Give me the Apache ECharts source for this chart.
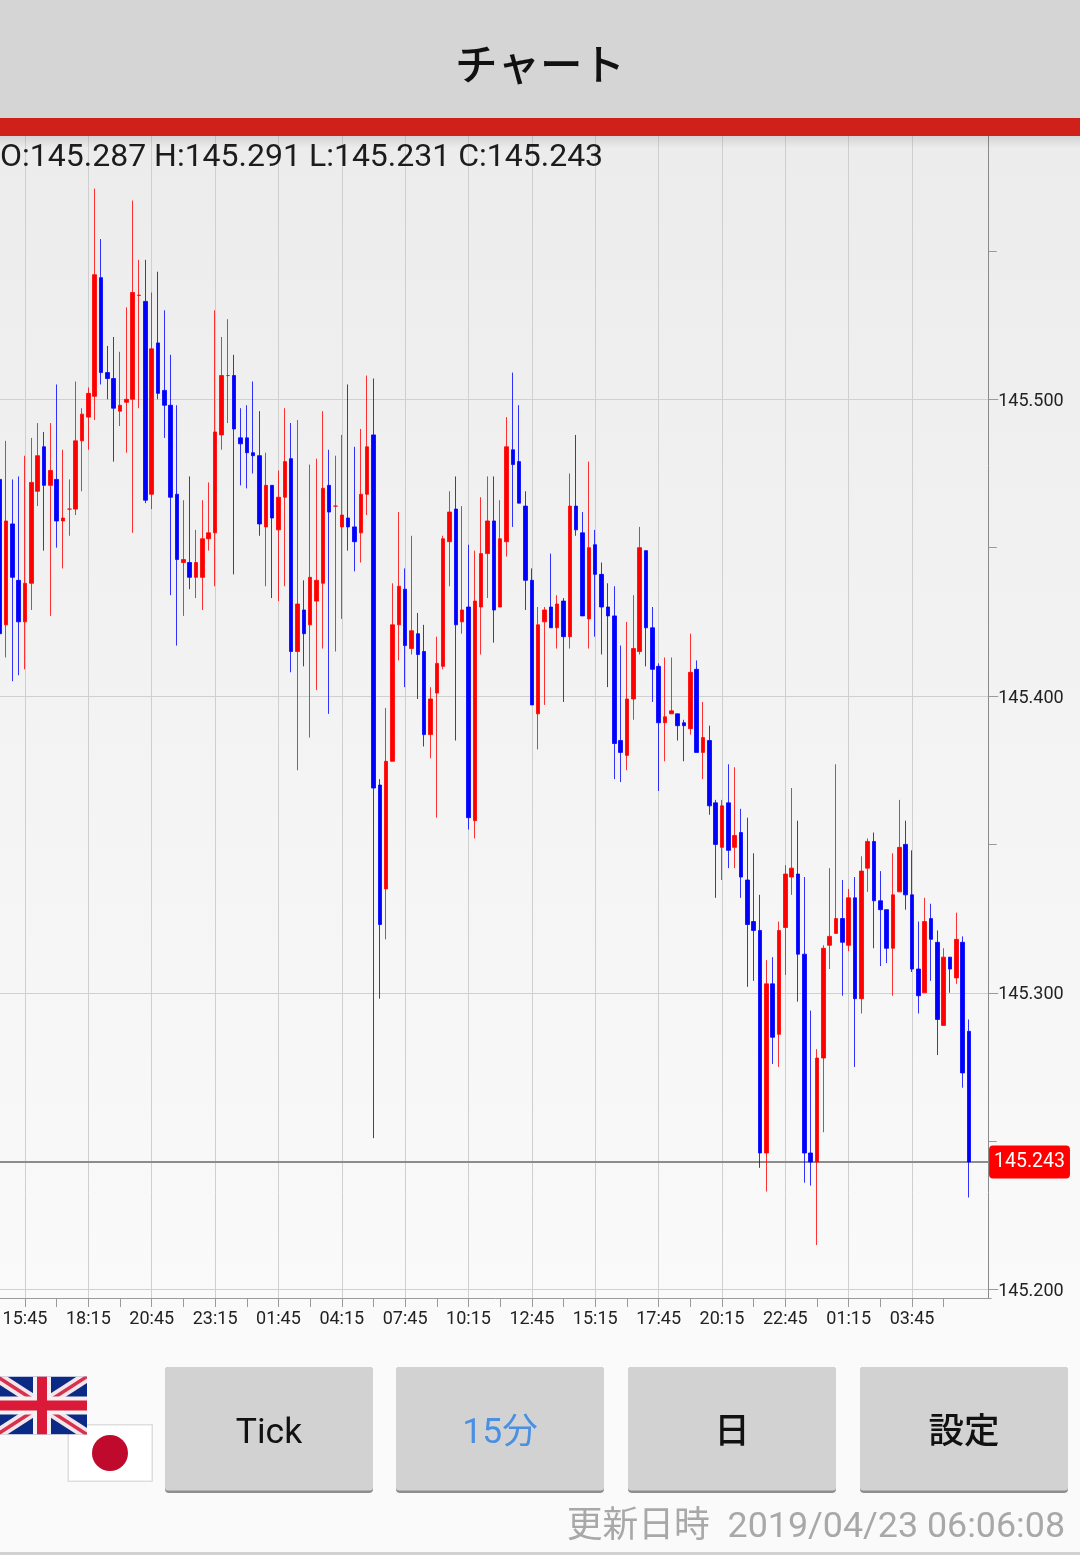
<!DOCTYPE html>
<html><head><meta charset="utf-8">
<style>html,body{margin:0;padding:0;background:#fafafa}#c{width:1080px;height:1555px}</style>
<script src="https://cdn.jsdelivr.net/npm/echarts@6/dist/echarts.min.js"></script>
</head><body><div id="c"></div>
<script>
const tickLabels=['15:45','18:15','20:45','23:15','01:45','04:15','07:45','10:15','12:45','15:15','17:45','20:15','22:45','01:15','03:45'];
const opens=[145.473,145.424,145.458,145.439,145.425,145.438,145.469,145.484,145.471,145.473,
145.459,145.463,145.463,145.486,145.494,145.501,145.541,145.509,145.507,145.496,
145.499,145.500,145.535,145.533,145.468,145.519,145.503,145.498,145.468,145.445,
145.445,145.440,145.440,145.453,145.455,145.488,145.508,145.508,145.487,145.487,
145.482,145.481,145.457,145.471,145.456,145.467,145.480,145.415,145.429,145.424,
145.432,145.438,145.471,145.464,145.457,145.460,145.457,145.455,145.468,145.488,
145.370,145.335,145.378,145.424,145.436,145.416,145.421,145.415,145.387,145.401,
145.410,145.452,145.463,145.425,145.430,145.358,145.430,145.448,145.459,145.430,
145.452,145.483,145.479,145.464,145.439,145.394,145.425,145.430,145.423,145.432,
145.420,145.464,145.455,145.426,145.451,145.441,145.430,145.427,145.385,145.380,
145.399,145.415,145.449,145.423,145.410,145.391,145.394,145.394,145.391,145.389,
145.409,145.381,145.385,145.364,145.349,145.364,145.349,145.354,145.338,145.324,
145.321,145.246,145.303,145.286,145.322,145.339,145.340,145.313,145.246,145.243,
145.278,145.316,145.320,145.325,145.316,145.332,145.298,145.342,145.351,145.331,
145.328,145.315,145.334,145.350,145.333,145.308,145.300,145.325,145.317,145.289,
145.312,145.305,145.317,145.287];
const highs=[145.492,145.486,145.473,145.474,145.481,145.487,145.492,145.489,145.492,145.505,
145.483,145.473,145.506,145.497,145.504,145.571,145.554,145.518,145.521,145.516,
145.531,145.567,145.547,145.547,145.536,145.543,145.530,145.515,145.498,145.466,
145.474,145.456,145.466,145.472,145.530,145.521,145.527,145.515,145.497,145.498,
145.506,145.496,145.482,145.471,145.476,145.497,145.492,145.493,145.439,145.478,
145.480,145.496,145.483,145.481,145.488,145.505,145.484,145.490,145.508,145.507,
145.372,145.396,145.438,145.462,145.443,145.454,145.428,145.424,145.403,145.420,
145.454,145.469,145.474,145.464,145.451,145.449,145.467,145.474,145.474,145.466,
145.494,145.509,145.498,145.469,145.443,145.430,145.430,145.448,145.434,145.433,
145.475,145.488,145.462,145.479,145.456,145.445,145.438,145.437,145.417,145.425,
145.434,145.457,145.449,145.430,145.411,145.413,145.413,145.394,145.392,145.421,
145.412,145.398,145.390,145.365,145.365,145.377,145.376,145.362,145.359,145.347,
145.333,145.311,145.312,145.324,145.343,145.369,145.358,145.339,145.294,145.281,
145.316,145.342,145.377,145.338,145.335,145.339,145.346,145.352,145.354,145.341,
145.328,145.347,145.365,145.358,145.348,145.324,145.332,145.330,145.321,145.315,
145.312,145.327,145.319,145.291];
const lows=[145.415,145.413,145.405,145.407,145.409,145.429,145.464,145.449,145.427,145.450,
145.443,145.454,145.461,145.469,145.483,145.493,145.505,145.500,145.479,145.491,
145.482,145.455,145.497,145.465,145.463,145.500,145.487,145.434,145.417,145.427,
145.436,145.433,145.429,145.449,145.437,145.483,145.492,145.441,145.471,145.470,
145.475,145.454,145.437,145.433,145.432,145.437,145.408,145.375,145.410,145.386,
145.402,145.416,145.394,145.415,145.426,145.449,145.442,145.445,145.461,145.251,
145.298,145.318,145.378,145.412,145.403,145.414,145.399,145.383,145.379,145.359,
145.409,145.437,145.385,145.421,145.355,145.352,145.414,145.433,145.418,145.430,
145.447,145.457,145.465,145.429,145.397,145.382,145.397,145.423,145.416,145.398,
145.416,145.454,145.427,145.416,145.420,145.414,145.403,145.372,145.371,145.375,
145.392,145.414,145.410,145.398,145.368,145.378,145.394,145.385,145.378,145.387,
145.381,145.372,145.360,145.332,145.338,145.342,145.342,145.332,145.302,145.304,
145.241,145.233,145.276,145.275,145.306,145.333,145.297,145.236,145.235,145.215,
145.253,145.308,145.320,145.299,145.314,145.275,145.293,145.334,145.315,145.309,
145.310,145.299,145.334,145.328,145.307,145.293,145.300,145.304,145.279,145.289,
145.300,145.303,145.268,145.231];
const closes=[145.421,145.459,145.440,145.425,145.438,145.472,145.481,145.471,145.476,145.459,
145.460,145.463,145.486,145.495,145.502,145.542,145.509,145.507,145.497,145.498,
145.500,145.536,145.5351,145.466,145.517,145.502,145.498,145.467,145.446,145.446,
145.440,145.445,145.453,145.455,145.489,145.508,145.508,145.490,145.485,145.482,
145.481,145.458,145.471,145.460,145.467,145.479,145.415,145.431,145.421,145.440,
145.439,145.470,145.462,145.464,145.461,145.457,145.452,145.468,145.484,145.369,
145.323,145.378,145.424,145.437,145.417,145.422,145.414,145.387,145.399,145.411,
145.453,145.462,145.424,145.429,145.359,145.432,145.448,145.459,145.429,145.453,
145.484,145.478,145.465,145.439,145.397,145.424,145.429,145.423,145.431,145.420,
145.464,145.456,145.427,145.450,145.441,145.430,145.427,145.384,145.381,145.399,
145.416,145.450,145.423,145.409,145.391,145.393,145.395,145.390,145.390,145.408,
145.381,145.386,145.363,145.350,145.363,145.348,145.353,145.339,145.323,145.321,
145.246,145.303,145.285,145.321,145.340,145.342,145.313,145.246,145.243,145.278,
145.315,145.319,145.325,145.317,145.332,145.298,145.341,145.351,145.331,145.328,
145.315,145.333,145.349,145.333,145.308,145.299,145.324,145.318,145.291,145.312,
145.308,145.318,145.273,145.243];
const lastPrice=145.243;
const ohlcText='O:145.287 H:145.291 L:145.231 C:145.243';
const leadBars=4, tailBars=3;

const categories=[];
for(let i=0;i<opens.length+tailBars;i++){
  const k=i-leadBars;
  categories.push(k>=0&&k%10===0&&tickLabels[k/10]?tickLabels[k/10]:'');
}
const candles=opens.map((o,i)=>[o,closes[i],lows[i],highs[i]]);
const priceLine=categories.map(()=>lastPrice);

const bandW=6.336, plotLeft=-3.51;
const gridTop=102.57, gridHeight=1483.65, axisLineY=1298;
const sans='Roboto, "Noto Sans CJK JP", sans-serif';
const bgFill={type:'linear',x:0,y:0,x2:0,y2:1,colorStops:[{offset:0,color:'#ececec'},{offset:1,color:'#fafafa'}]};
function rect(x,y,w,h,fill,z,r){return {type:'rect',z:z,shape:{x,y,width:w,height:h,r:r||0},style:{fill}};}
function txt(x,y,text,size,fill,align,family,weight){return {type:'text',z:65,x,y,style:{text,font:(weight?weight+' ':'')+size+'px '+(family||sans),fill,textAlign:align||'center',textVerticalAlign:'middle'}};}
function button(x,label,color,weight){
  return [
    rect(x,1367,208,126,'#8e8e8e',63,4),
    rect(x,1367,208,123.5,'#d2d2d2',64,3),
    txt(x+104,1434,label,35.5,color,'center',null,weight)
  ];
}
function ukFlag(){
  const x0=-3,y0=1376.5,w=90,h=58,cx=x0+w/2,cy=y0+h/2;
  const line=(x1,y1,x2,y2,lw,c)=>({type:'line',z:62,shape:{x1,y1,x2,y2},style:{stroke:c,lineWidth:lw}});
  return {type:'group',z:62,children:[
    rect(x0,y0,w,h,'#0a2a86',62),
    line(x0,y0,x0+w,y0+h,11,'#f3e6ea'),line(x0,y0+h,x0+w,y0,11,'#f3e6ea'),
    line(x0,y0,x0+w,y0+h,3.5,'#d8304f'),line(x0,y0+h,x0+w,y0,3.5,'#d8304f'),
    rect(cx-9,y0,18,h,'#f5f0f2',62),rect(x0,cy-9,w,18,'#f5f0f2',62),
    rect(cx-5,y0,10,h,'#da1a38',62),rect(x0,cy-5,w,10,'#da1a38',62)
  ],clipPath:{type:'rect',shape:{x:x0,y:y0,width:w,height:h}}};
}
const chrome=[
  {type:'rect',z:-10,shape:{x:0,y:136,width:1080,height:1163},style:{fill:bgFill}},
  rect(0,1299,1080,256,'#fafafa',50),
  rect(0,0,1080,118,'#d5d5d5',40),
  rect(0,118,1080,18,'#d0201a',41),
  {type:'rect',z:39,shape:{x:0,y:136,width:1080,height:12},style:{fill:{type:'linear',x:0,y:0,x2:0,y2:1,colorStops:[{offset:0,color:'rgba(0,0,0,0.10)'},{offset:1,color:'rgba(0,0,0,0)'}]}}},
  txt(540,64,'チャート',42.5,'#111','center','"Noto Sans CJK JP"','500'),
  {type:'text',z:65,x:0,y:158,style:{text:ohlcText,font:'32px Roboto',fill:'#1c1c1c',textAlign:'left',textVerticalAlign:'middle'}},
  rect(67.5,1424,85.5,58,'#dedede',60),
  rect(69,1425.5,82.5,55,'#ffffff',60),
  {type:'circle',z:61,shape:{cx:110,cy:1453,r:18},style:{fill:'#bf0a2e'}},
  ukFlag(),
  ...button(165,'Tick','#111'),
  ...button(396,'15分','#4a90e2'),
  ...button(628,'日','#111','500'),
  ...button(860,'設定','#111','500'),
  txt(1065,1528,'更新日時  2019/04/23 06:06:08',35.8,'#a8a8a8','right'),
  rect(0,1552,1080,3,'#d2d2d2',60)
];

const onTick=(i)=>(i-leadBars)%5===0&&i<opens.length;
const onLabel=(i)=>(i-leadBars)>=0&&(i-leadBars)%10===0&&i<opens.length;

const chart=echarts.init(document.getElementById('c'),null,{renderer:'canvas',width:1080,height:1555});
chart.setOption({
  animation:false,
  backgroundColor:'transparent',
  graphic:{elements:chrome},
  grid:{left:plotLeft,top:gridTop,width:bandW*categories.length,height:gridHeight,containLabel:false,outerBoundsMode:'none'},
  xAxis:[{
    type:'category',data:categories,boundaryGap:true,position:'bottom',
    axisLine:{show:false},axisTick:{show:false},axisLabel:{show:false},
    splitLine:{show:true,alignWithLabel:true,lineStyle:{color:'#cfcfcf',width:1},interval:onLabel}
  },{
    type:'category',data:categories,boundaryGap:true,position:'bottom',z:70,
    offset:axisLineY-(gridTop+gridHeight),
    axisLine:{show:true,onZero:false,lineStyle:{color:'#9a9a9a',width:1}},
    axisTick:{show:true,alignWithLabel:true,length:9,lineStyle:{color:'#9a9a9a'},interval:onTick},
    axisLabel:{show:true,margin:12,fontFamily:'Roboto',fontSize:18,color:'#222',hideOverlap:false,interval:onLabel},
    splitLine:{show:false}
  }],
  yAxis:{
    type:'value',position:'right',offset:-2.5,
    min:145.1,max:145.6,interval:0.1,
    axisLine:{show:true,lineStyle:{color:'#8a8a8a',width:1}},
    axisTick:{show:true,length:9.5,lineStyle:{color:'#9a9a9a'}},
    minorTick:{show:true,splitNumber:2,length:8,lineStyle:{color:'#9a9a9a'}},
    minorSplitLine:{show:false},
    axisLabel:{margin:9.5,fontFamily:'Roboto',fontSize:18,color:'#222',verticalAlign:'top',padding:[-7,0,0,0],formatter:(v)=>v.toFixed(3)},
    splitLine:{show:true,lineStyle:{color:'#d0d0d0',width:1}}
  },
  series:[{
    type:'line',data:priceLine,xAxisIndex:0,yAxisIndex:0,symbol:'none',silent:true,clip:false,z:1,
    lineStyle:{color:'#8c8c8c',width:2},
    endLabel:{show:true,distance:1,formatter:()=>lastPrice.toFixed(3),
      backgroundColor:'#ff0000',borderRadius:4,color:'#fff',fontFamily:'Roboto',fontSize:19.5,padding:[7,5,6,5]}
  },{
    type:'candlestick',data:candles,barWidth:4,clip:false,xAxisIndex:0,yAxisIndex:0,z:2,
    itemStyle:{color:'#ff0000',color0:'#0000ff',borderColor:'rgba(255,0,0,0.8)',borderColor0:'rgba(0,0,255,0.8)',borderWidth:1}
  }]
});
</script></body></html>
